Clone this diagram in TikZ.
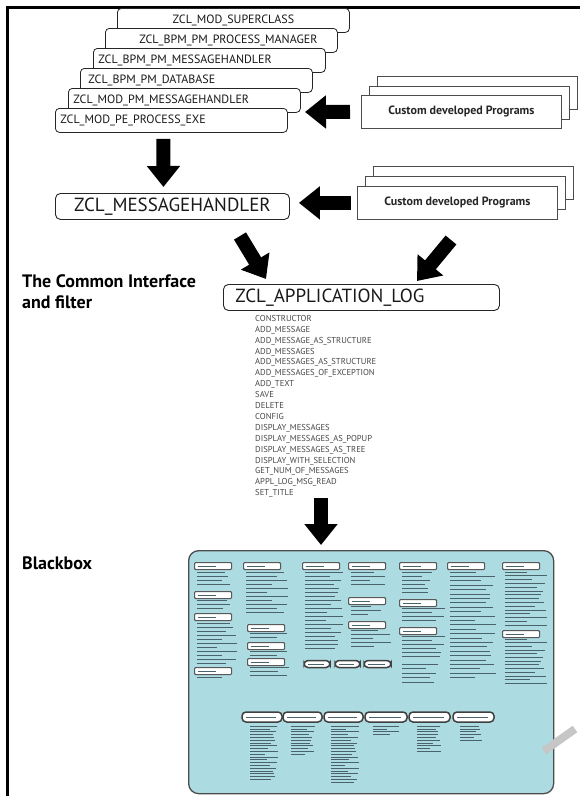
\documentclass[tikz,border=0pt]{standalone}
\usepackage{fontspec}
\setmainfont{PT Sans}
\usepackage{tikz}
\usetikzlibrary{arrows.meta}

\definecolor{boxcyan}{RGB}{172,220,226}
\definecolor{inkgray}{RGB}{74,98,106}

\tikzset{
  clsbox/.style={draw=black!85, fill=white, rounded corners=4pt, line width=0.8pt,
    text width=222pt, align=left, minimum height=24pt, inner xsep=5pt, inner ysep=0pt,
    anchor=north west, text=black!90, font=\fontsize{12}{14}\selectfont},
  custbox/.style={draw=black!70, fill=white, line width=0.8pt, minimum width=200pt,
    minimum height=33pt, anchor=north west, text=black!85,
    font=\bfseries\fontsize{12}{14}\selectfont},
  bigbox/.style={draw=black!85, fill=white, rounded corners=5pt, line width=0.9pt,
    minimum height=26pt, anchor=north west, text=black!90, font=\fontsize{19}{21}\selectfont},
  bigarrow/.style={line width=14pt, -{Triangle[length=21pt, width=32pt]}},
  inkline/.style={draw=inkgray, line width=0.9pt},
  thinline/.style={draw=inkgray, line width=0.6pt},
  tag/.style={draw=black!65, fill=white, line width=1.1pt, rounded corners=1pt,
    minimum width=37pt, minimum height=7pt, inner sep=0pt, anchor=north west,
    path picture={\draw[thinline] ([xshift=3pt]path picture bounding box.west)
      -- ([xshift=-16pt]path picture bounding box.east);}},
  pill/.style={draw=black!75, fill=white, line width=1.5pt, rounded corners=4pt,
    inner sep=0pt,
    path picture={\draw[thinline] ([xshift=4pt]path picture bounding box.west)
      -- ([xshift=-6pt]path picture bounding box.east);}}
}

% #1 style, #2 x, #3 y of first line, #4 lines, #5 step, #6 longest line
\newcommand\inklines[6]{%
  \foreach \k in {1,...,#4}{%
    \pgfmathsetmacro\ilen{#6*(0.5+0.5*abs(sin(\k*97+#2*13)))}
    \draw[#1] (#2,{#3+(\k-1)*#5}) -- ++(\ilen,0);
  }}

\begin{document}
\begin{tikzpicture}[x=1pt, y=-1pt]
\useasboundingbox (0,0) rectangle (584,796);
\fill[white] (0,0) rectangle (584,796);
\draw[line width=3pt] (7,796) -- (7,7) -- (580,7);

\node[clsbox, align=center] (super) at (117,8) {ZCL\_MOD\_SUPERCLASS};
\node[clsbox, align=center] (procmgr) at (105,28) {\hspace*{14pt}ZCL\_BPM\_PM\_PROCESS\_MANAGER};
\node[clsbox] (bpmmsg) at (93,48) {ZCL\_BPM\_PM\_MESSAGEHANDLER};
\node[clsbox] (bpmdb) at (80,68) {\hspace*{3pt}ZCL\_BPM\_PM\_DATABASE};
\node[clsbox] (modmsg) at (68,88) {ZCL\_MOD\_PM\_MESSAGEHANDLER};
\node[clsbox] (peexe) at (55,108) {ZCL\_MOD\_PE\_PROCESS\_EXE};

\node[custbox] (cust1c) at (377,76) {};
\node[custbox] (cust1b) at (369,86) {};
\node[custbox] (cust1) at (361,95) {Custom developed Programs};

\node[bigbox, minimum width=234pt] (msgh) at (55,193) {ZCL\_MESSAGEHANDLER};

\node[custbox] (cust2c) at (373,166) {};
\node[custbox] (cust2b) at (365,176) {};
\node[custbox] (cust2) at (357,186) {Custom developed Programs};

\node[anchor=north west, inner sep=0pt, align=left, font=\bfseries\fontsize{18}{21}\selectfont]
  (common) at (22,274) {The Common Interface\\and filter};
\node[bigbox, text width=252pt, align=left, inner xsep=12pt] (applog) at (223,284) {ZCL\_APPLICATION\_LOG};
\node[anchor=north west, inner sep=0pt, align=left, text=black!72, font=\fontsize{8.6}{10.9}\selectfont]
  (methods) at (255,315) {CONSTRUCTOR\\ADD\_MESSAGE\\ADD\_MESSAGE\_AS\_STRUCTURE\\ADD\_MESSAGES\\
  ADD\_MESSAGES\_AS\_STRUCTURE\\ADD\_MESSAGES\_OF\_EXCEPTION\\ADD\_TEXT\\SAVE\\DELETE\\CONFIG\\
  DISPLAY\_MESSAGES\\DISPLAY\_MESSAGES\_AS\_POPUP\\DISPLAY\_MESSAGES\_AS\_TREE\\
  DISPLAY\_WITH\_SELECTION\\GET\_NUM\_OF\_MESSAGES\\APPL\_LOG\_MSG\_READ\\SET\_TITLE};

\node[anchor=west, inner sep=0pt, font=\bfseries\fontsize{18}{21}\selectfont] (blackbox) at (22,563) {Blackbox};
\node[draw=black!70, fill=boxcyan, rounded corners=10pt, line width=1.3pt, anchor=north west,
  minimum width=365pt, minimum height=243pt] (bbox) at (188,550) {};

\coordinate (a1) at (305,112);
\coordinate (d1s) at (240,236);
\coordinate (d1e) at (266,279);
\coordinate (d2s) at (451,240);
\coordinate (d2e) at (417,281);
\coordinate (f1) at (321,498);
\draw[bigarrow, shorten <=11pt] (cust1.west) -- (a1);
\draw[bigarrow, shorten <=6pt, shorten >=6pt] ([xshift=-8pt]peexe.south) -- ([xshift=-9pt]msgh.north);
\draw[bigarrow, shorten <=6pt, shorten >=9pt] (cust2.west) -- (cust2.west -| msgh.east);
\draw[bigarrow] (d1s) -- (d1e);
\draw[bigarrow] (d2s) -- (d2e);
\draw[bigarrow, shorten >=5pt] (f1) -- (f1 |- bbox.north);

% inside the blackbox
\foreach \tx/\tn in {194/a,243/b,302/c,348/d,399/e,447/f,502/g}
  \node[tag] (top\tn) at (\tx,562) {};
\node[tag] (ia2) at (194,591) {};
\node[tag] (ia3) at (194,613) {};
\node[tag] (ia4) at (194,667) {};
\node[tag] (ib2) at (247,624) {};
\node[tag] (ib3) at (247,642) {};
\node[tag] (ib4) at (247,658) {};
\node[tag] (id2) at (348,597) {};
\node[tag] (id3) at (348,621) {};
\node[tag] (ie2) at (399,599) {};
\node[tag] (ie3) at (399,627) {};
\node[tag] (ig2) at (502,630) {};

\inklines{inkline}{197}{572}{4}{4}{34}
\inklines{inkline}{197}{600}{3}{4}{36}
\inklines{inkline}{197}{623}{11}{4}{40}
\inklines{inkline}{197}{677}{1}{4}{30}
\inklines{inkline}{246}{572}{11}{4}{42}
\inklines{inkline}{250}{633}{2}{4}{38}
\inklines{inkline}{250}{651}{2}{4}{38}
\inklines{inkline}{250}{667}{3}{4}{40}
\inklines{inkline}{305}{572}{20}{4}{38}
\inklines{inkline}{351}{572}{4}{4}{34}
\inklines{inkline}{351}{606}{3}{4}{30}
\inklines{inkline}{351}{630}{5}{4}{40}
\inklines{inkline}{402}{572}{6}{4}{30}
\inklines{inkline}{402}{608}{4}{4}{44}
\inklines{inkline}{402}{636}{6}{4}{44}
\inklines{inkline}{402}{664}{5}{4.5}{36}
\inklines{inkline}{450}{572}{25}{4.4}{46}
\inklines{inkline}{505}{572}{15}{3.8}{42}
\inklines{inkline}{505}{639}{13}{3.7}{42}

\node[pill, minimum width=26pt, minimum height=7pt] (mid1) at (317,664) {};
\node[pill, minimum width=25pt, minimum height=7pt] (mid2) at (347.5,664) {};
\node[pill, minimum width=27pt, minimum height=7pt] (mid3) at (377.5,664) {};

\node[pill, minimum width=40pt, minimum height=10pt] (log1) at (262,717) {};
\node[pill, minimum width=39pt, minimum height=10pt] (log2) at (302.5,717) {};
\node[pill, minimum width=39pt, minimum height=10pt] (log3) at (343.5,717) {};
\node[pill, minimum width=42pt, minimum height=10pt] (log4) at (386,717) {};
\node[pill, minimum width=41pt, minimum height=10pt] (log5) at (429.5,717) {};
\node[pill, minimum width=41pt, minimum height=10pt] (log6) at (473.5,717) {};

\inklines{thinline}{250}{726}{20}{2.8}{28}
\inklines{thinline}{291}{726}{11}{2.8}{24}
\inklines{thinline}{331}{726}{21}{2.8}{28}
\inklines{thinline}{373}{726}{4}{2.8}{26}
\inklines{thinline}{417}{726}{10}{2.8}{24}
\inklines{thinline}{460}{726}{6}{2.8}{22}

\draw[line width=8pt, gray!45] (544,751) -- (575,729);
\end{tikzpicture}
\end{document}
